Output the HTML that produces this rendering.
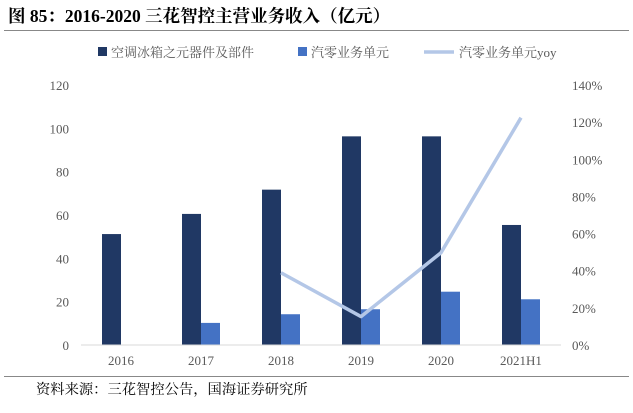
<!DOCTYPE html>
<html><head><meta charset="utf-8"><style>
body{margin:0;width:633px;height:413px;background:#fff;overflow:hidden;font-family:"Liberation Serif","Noto Serif CJK SC",serif;}
#title{position:absolute;left:8px;top:3px;font-size:17.5px;font-weight:bold;color:#000;white-space:nowrap;}
#tline{position:absolute;left:4px;top:30px;width:625px;height:1px;background:#888;}
#bline{position:absolute;left:4px;top:376px;width:625px;height:1px;background:#888;}
#src{position:absolute;left:36px;top:379px;font-size:14.3px;color:#000;white-space:nowrap;}
</style></head><body>
<div id="title">图 85：2016-2020 三花智控主营业务收入（亿元）</div>
<div id="tline"></div>
<svg id="chart" width="633" height="413" style="position:absolute;left:0;top:0"></svg>
<div id="bline"></div>
<div id="src">资料来源：三花智控公告，国海证券研究所</div>
<script>
const categories=["2016","2017","2018","2019","2020","2021H1"];
const acValues=[51.2,60.5,71.7,96.3,96.3,55.4];
const autoValues=[null,10.2,14.2,16.5,24.6,21.1];
const yoyValues=[null,null,38.9,15.3,49.7,122.4];
const leftTicks=[0,20,40,60,80,100,120];
const rightTicks=[0,20,40,60,80,100,120,140];
const NS="http://www.w3.org/2000/svg";
const svg=document.getElementById('chart');
const x0=81,x1=561,yB=345,yT=85;
const bw=(x1-x0)/categories.length;
const yL=v=>yB-(v/120)*(yB-yT);
const yR=v=>yB-(v/140)*(yB-yT);
const xc=i=>x0+bw*(i+0.5);
function mk(t,a){const e=document.createElementNS(NS,t);for(const k in a)e.setAttribute(k,a[k]);svg.appendChild(e);return e;}
const f='font-family:"Liberation Serif",serif;font-size:13px;fill:#595959';
leftTicks.forEach(v=>{const t=mk('text',{x:69,y:yL(v)+5,'text-anchor':'end',style:f});t.textContent=v;

});
rightTicks.forEach(v=>{const t=mk('text',{x:572,y:yR(v)+5,style:f});t.textContent=v+'%';

});
categories.forEach((c,i)=>{const t=mk('text',{x:xc(i),y:yB+20,'text-anchor':'middle',style:f});t.textContent=c;

});
const bW=19;
acValues.forEach((v,i)=>{if(v==null)return;const r=mk('rect',{x:xc(i)-bW,y:yL(v),width:bW,height:yB-yL(v),fill:'#203864'});

});
autoValues.forEach((v,i)=>{if(v==null)return;const r=mk('rect',{x:xc(i),y:yL(v),width:bW,height:yB-yL(v),fill:'#4472c4'});

});
const ax=mk('line',{x1:x0,y1:yB,x2:x1,y2:yB,stroke:'#d9d9d9','stroke-width':1});


const pts=[];yoyValues.forEach((v,i)=>{if(v!=null)pts.push(xc(i)+','+yR(v));});
const pl=mk('polyline',{points:pts.join(' '),fill:'none',stroke:'#b4c7e7','stroke-width':3.5,'stroke-linejoin':'round'});


const lf='font-family:"Liberation Serif","Noto Serif CJK SC",serif;font-size:13px;fill:#595959';
const lg=[[98,'#203864','空调冰箱之元器件及部件','rect'],[298,'#4472c4','汽零业务单元','rect'],[432,'#b4c7e7','汽零业务单元yoy','line']];
lg.forEach((l,i)=>{let m;if(l[3]=='rect')m=mk('rect',{x:l[0],y:47,width:9,height:9,fill:l[1]});
else m=mk('line',{x1:l[0]-8,y1:52,x2:l[0]+22,y2:52,stroke:l[1],'stroke-width':3.5});


const t=mk('text',{x:l[0]+(l[3]=='rect'?13:27),y:57,style:lf});t.textContent=l[2];

});
</script>
</body></html>
